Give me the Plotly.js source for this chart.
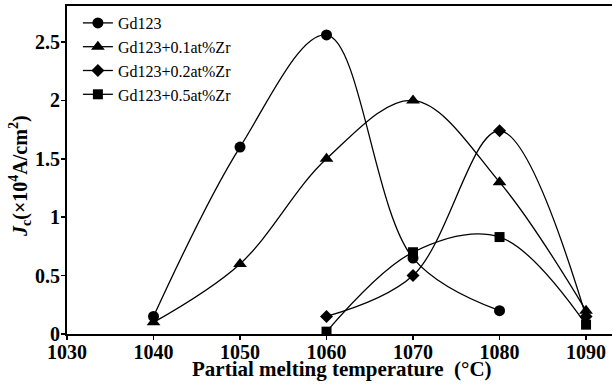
<!DOCTYPE html>
<html>
<head>
<meta charset="utf-8">
<script src="https://cdn.plot.ly/plotly-3.0.1.min.js"></script>
<style>html,body{margin:0;padding:0;background:#fff}#chart{width:612px;height:388px}</style>
</head>
<body>
<div id="chart"></div>
<script>
const seriesNames = ["Gd123", "Gd123+0.1at%Zr", "Gd123+0.2at%Zr", "Gd123+0.5at%Zr"];
const tempGd123 = [1040, 1050, 1060, 1070, 1080];
const jcGd123 = [0.15, 1.6, 2.56, 0.65, 0.2];
const temp01 = [1040, 1050, 1060, 1070, 1080, 1090];
const jc01 = [0.1, 0.6, 1.5, 2.0, 1.3, 0.2];
const temp02 = [1060, 1070, 1080, 1090];
const jc02 = [0.15, 0.5, 1.74, 0.15];
const temp05 = [1060, 1070, 1080, 1090];
const jc05 = [0.02, 0.7, 0.83, 0.08];
const xTicks = [1030, 1040, 1050, 1060, 1070, 1080, 1090];
const xTitle = 'Partial melting temperature\u00a0\u00a0(°C)';
const yTitle = '<i>J</i><sub>c</sub>(×10<sup>4</sup>A/cm<sup>2</sup>)';

const FONT = "'Times New Roman', 'Liberation Serif', 'DejaVu Serif', serif";
const symbols = ["circle", "triangle-up", "diamond", "square"];
const sizes = [11, 12, 10, 10];
const xs = [tempGd123, temp01, temp02, temp05];
const ys = [jcGd123, jc01, jc02, jc05];

const traces = seriesNames.map((n, i) => ({
  x: xs[i], y: ys[i], name: n, type: 'scatter', mode: 'lines+markers',
  line: {shape: 'spline', smoothing: 1, color: '#000', width: 1.3},
  marker: {symbol: symbols[i], size: sizes[i], color: '#000'}
}));

const layout = {
  width: 612, height: 388,
  margin: {l: 67, r: 0, t: 6, b: 54},
  paper_bgcolor: '#fff', plot_bgcolor: '#fff',
  showlegend: true,
  legend: {x: 0.02, y: 1.0, xanchor: 'left', yanchor: 'top', bgcolor: 'rgba(0,0,0,0)',
    font: {family: FONT, size: 16, color: '#000'}, tracegroupgap: 0, itemwidth: 30},
  xaxis: {
    range: [1030, 1093], tickvals: xTicks, ticktext: xTicks.map(String),
    showgrid: false, zeroline: false, showline: true, linecolor: '#000', linewidth: 2, mirror: true,
    ticks: 'outside', ticklen: 4, tickwidth: 1.5, tickcolor: '#000', ticklabelstandoff: -5,
    tickfont: {family: FONT, size: 20, color: '#000', weight: 'bold'}
  },
  yaxis: {
    range: [0, 2.808], dtick: 0.5,
    showgrid: false, zeroline: false, showline: true, linecolor: '#000', linewidth: 2,
    ticks: 'outside', ticklen: 4, tickwidth: 1.5, tickcolor: '#000', ticklabelstandoff: -3,
    tickfont: {family: FONT, size: 20, color: '#000', weight: 'bold'}
  },
  annotations: [
    {text: xTitle, xref: 'paper', yref: 'paper', x: 0.5046, y: -0.108, xanchor: 'center', yanchor: 'middle',
     showarrow: false, font: {family: FONT, size: 21, color: '#000', weight: 'bold'}},
    {text: yTitle, xref: 'paper', yref: 'paper', x: -0.0862, y: 0.482, xanchor: 'center', yanchor: 'middle',
     textangle: -90, showarrow: false, font: {family: FONT, size: 20, color: '#000', weight: 'bold'}}
  ]
};
Plotly.newPlot('chart', traces, layout, {displayModeBar: false, staticPlot: true});
</script>
</body>
</html>
